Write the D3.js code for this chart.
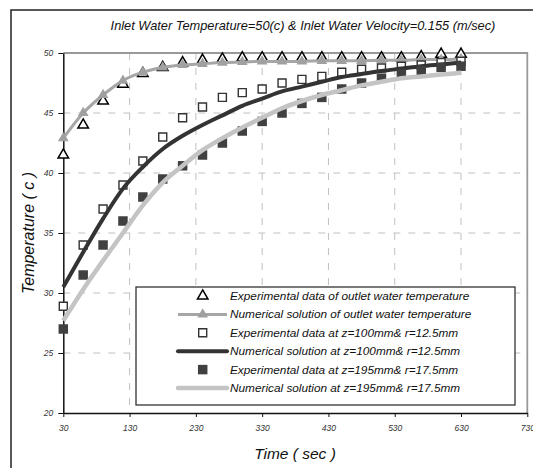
<!DOCTYPE html>
<html>
<head>
<meta charset="utf-8">
<script src="https://cdn.jsdelivr.net/npm/d3@7"></script>
<style>
  body { margin: 0; background: #fff; }
  text { font-family: 'Liberation Sans', Arial, sans-serif; font-style: italic; }
</style>
</head>
<body>
<div class="vis"></div>
<script>
// data
const times = [30, 60, 90, 120, 150, 180, 210, 240, 270, 300, 330, 360, 390, 420, 450, 480, 510, 540, 570, 600, 630]
const expOutlet = [41.5, 44.0, 46.0, 47.4, 48.3, 48.8, 49.2, 49.4, 49.5, 49.6, 49.6, 49.6, 49.6, 49.6, 49.6, 49.6, 49.6, 49.6, 49.7, 49.9, 49.9]
const numOutlet = [42.9, 45.0, 46.5, 47.7, 48.4, 48.8, 49.0, 49.1, 49.2, 49.25, 49.3, 49.3, 49.3, 49.35, 49.35, 49.35, 49.4, 49.4, 49.45, 49.45, 49.5]
const expZ100 = [28.9, 34.0, 37.0, 39.0, 41.0, 43.0, 44.6, 45.5, 46.3, 46.7, 47.0, 47.5, 47.8, 48.05, 48.4, 48.65, 48.75, 48.9, 49.0, 49.2, 49.3]
const numZ100 = [30.5, 33.4, 36.2, 38.7, 40.5, 42.0, 43.1, 44.0, 44.8, 45.6, 46.2, 46.8, 47.2, 47.6, 48.0, 48.25, 48.5, 48.7, 48.9, 49.05, 49.2]
const expZ195 = [27.0, 31.5, 34.0, 36.0, 38.0, 39.5, 40.6, 41.5, 42.5, 43.5, 44.3, 45.0, 45.8, 46.3, 47.0, 47.5, 47.9, 48.25, 48.55, 48.8, 48.9]
const numZ195 = [27.7, 30.3, 32.7, 35.0, 37.3, 39.2, 40.6, 41.9, 42.9, 43.8, 44.6, 45.4, 46.0, 46.5, 46.9, 47.3, 47.6, 47.9, 48.05, 48.2, 48.35]
const xTicks = [30, 130, 230, 330, 430, 530, 630, 730]
const yTicks = [20, 25, 30, 35, 40, 45, 50]
const legendLabels = [
    'Experimental data of outlet water temperature',
    'Numerical solution of outlet water temperature',
    'Experimental data at z=100mm& r=12.5mm',
    'Numerical solution at z=100mm& r=12.5mm',
    'Experimental data at z=195mm& r=17.5mm',
    'Numerical solution at z=195mm& r=17.5mm'
]

const w = 533
const h = 468
const plotL = 63.3, plotR = 527.3, plotT = 53, plotB = 413

const svg = d3.select('.vis')
    .append('svg')
    .attr('width', w)
    .attr('height', h)

// outer frame (right and bottom edges fall outside the picture)
svg.append('rect')
    .attr('x', 11).attr('y', 10)
    .attr('width', 540).attr('height', 470)
    .attr('fill', '#fff')
    .attr('stroke', '#222')
    .attr('stroke-width', 1.5)

const xScale = d3.scaleLinear().domain([30, 730]).range([plotL, plotR])
const yScale = d3.scaleLinear().domain([20, 50]).range([plotB, plotT])

// grid
svg.append('g')
    .selectAll('line')
    .data(xTicks.slice(1, -1))
    .enter().append('line')
    .attr('x1', d => xScale(d)).attr('x2', d => xScale(d))
    .attr('y1', plotT).attr('y2', plotB)
    .attr('stroke', '#c0c0c0')
    .attr('stroke-dasharray', '7,8')

svg.append('g')
    .selectAll('line')
    .data(yTicks.slice(1, -1))
    .enter().append('line')
    .attr('x1', plotL).attr('x2', plotR)
    .attr('y1', d => yScale(d)).attr('y2', d => yScale(d))
    .attr('stroke', '#c0c0c0')
    .attr('stroke-dasharray', '7,8')

// plot area top / right border
svg.append('path')
    .attr('d', `M${plotL},${plotT}H${plotR}V${plotB}`)
    .attr('fill', 'none')
    .attr('stroke', '#999')
    .attr('stroke-width', 1.8)

// axes
const xAxis = d3.axisBottom(xScale).tickValues(xTicks).tickSize(4).tickSizeOuter(0)
const yAxis = d3.axisLeft(yScale).tickValues(yTicks).tickSize(5).tickSizeOuter(0)

const gx = svg.append('g')
    .attr('transform', 'translate(0,' + plotB + ')')
    .call(xAxis)
gx.select('.domain').attr('stroke', '#111').attr('stroke-width', 1.5)
gx.selectAll('.tick line').attr('stroke', '#111')
gx.selectAll('text')
    .attr('font-size', 8.5)
    .attr('fill', '#333')
    .attr('y', 12)

const gy = svg.append('g')
    .attr('transform', 'translate(' + plotL + ',0)')
    .call(yAxis)
gy.select('.domain').attr('stroke', '#111').attr('stroke-width', 1.5)
gy.selectAll('.tick line').attr('stroke', '#111')
gy.selectAll('text')
    .attr('font-size', 8.5)
    .attr('fill', '#333')
    .attr('x', -10)

// title and axis labels
svg.append('text')
    .attr('x', 303).attr('y', 30)
    .attr('text-anchor', 'middle')
    .attr('font-size', 12.8)
    .attr('fill', '#111')
    .text('Inlet Water Temperature=50(c) & Inlet Water Velocity=0.155 (m/sec)')

svg.append('text')
    .attr('transform', 'translate(34,233) rotate(-90)')
    .attr('text-anchor', 'middle')
    .attr('font-size', 16)
    .attr('fill', '#111')
    .text('Temperature ( c )')

svg.append('text')
    .attr('x', 295).attr('y', 459)
    .attr('text-anchor', 'middle')
    .attr('font-size', 15.5)
    .attr('fill', '#111')
    .text('Time ( sec )')

// series
const line = (vals) => d3.line()
    .x((d, i) => xScale(times[i]))
    .y(d => yScale(d))
    .curve(d3.curveMonotoneX)(vals)

const tri = d3.symbol().type(d3.symbolTriangle).size(48)
const triSmall = d3.symbol().type(d3.symbolTriangle).size(50)
const sq = d3.symbol().type(d3.symbolSquare).size(64)
const sqFill = d3.symbol().type(d3.symbolSquare).size(90)

function markers(vals, sym, fill, stroke, sw) {
    svg.append('g')
        .selectAll('path')
        .data(vals)
        .enter().append('path')
        .attr('transform', (d, i) => 'translate(' + xScale(times[i]) + ',' + yScale(d) + ')')
        .attr('d', sym)
        .attr('fill', fill)
        .attr('stroke', stroke)
        .attr('stroke-width', sw)
}

function curve(vals, color, width) {
    svg.append('path')
        .attr('d', line(vals))
        .attr('fill', 'none')
        .attr('stroke', color)
        .attr('stroke-width', width)
}

markers(expOutlet, tri, '#fff', '#000', 1.5)
curve(numOutlet, '#a6a6a6', 3)
markers(numOutlet, triSmall, '#a0a0a0', 'none', 0)
markers(expZ100, sq, '#fff', '#333', 1.4)
curve(numZ100, '#333', 4)
markers(expZ195, sqFill, '#404040', 'none', 0)
curve(numZ195, '#c4c4c4', 4.5)

// legend
const lg = svg.append('g')
lg.append('rect')
    .attr('x', 136).attr('y', 287)
    .attr('width', 379).attr('height', 118)
    .attr('fill', '#fff')
    .attr('stroke', '#333')
    .attr('stroke-width', 1.3)

const rowY = (i) => 296 + i * 18.4
const symX = 202.7

lg.append('path').attr('transform', `translate(${symX},${rowY(0)})`).attr('d', tri)
    .attr('fill', '#fff').attr('stroke', '#000').attr('stroke-width', 1.5)
lg.append('line').attr('x1', 178).attr('x2', 227).attr('y1', rowY(1)).attr('y2', rowY(1))
    .attr('stroke', '#a6a6a6').attr('stroke-width', 3)
lg.append('path').attr('transform', `translate(${symX},${rowY(1)})`).attr('d', triSmall)
    .attr('fill', '#a0a0a0')
lg.append('path').attr('transform', `translate(${symX},${rowY(2)})`).attr('d', sq)
    .attr('fill', '#fff').attr('stroke', '#333').attr('stroke-width', 1.4)
lg.append('line').attr('x1', 178).attr('x2', 227).attr('y1', rowY(3)).attr('y2', rowY(3))
    .attr('stroke', '#333').attr('stroke-width', 4).attr('stroke-linecap', 'round')
lg.append('path').attr('transform', `translate(${symX},${rowY(4)})`).attr('d', sqFill)
    .attr('fill', '#404040')
lg.append('line').attr('x1', 178).attr('x2', 227).attr('y1', rowY(5)).attr('y2', rowY(5))
    .attr('stroke', '#c4c4c4').attr('stroke-width', 4.5).attr('stroke-linecap', 'round')

lg.selectAll('.lab')
    .data(legendLabels)
    .enter().append('text')
    .attr('class', 'lab')
    .attr('x', 230)
    .attr('y', (d, i) => rowY(i) + 4)
    .attr('font-size', 11.8)
    .attr('fill', '#111')
    .text(d => d)
</script>
</body>
</html>
